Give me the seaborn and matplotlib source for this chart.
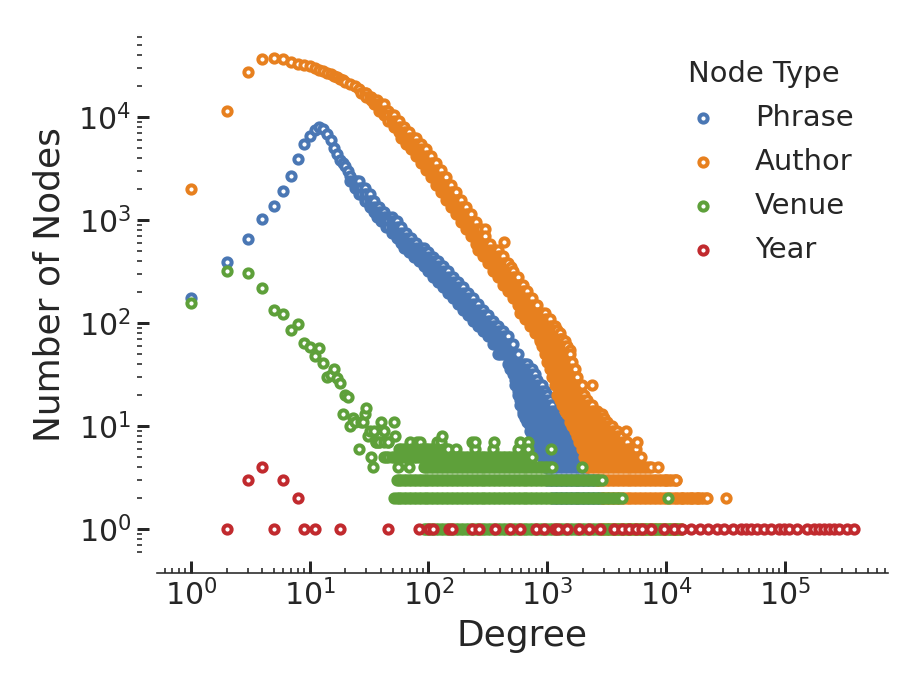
import numpy as np
import pandas as pd
import matplotlib
matplotlib.use("Agg")
import matplotlib.pyplot as plt
import seaborn as sns

# ----------------------------------------------------------
# DATA
# ----------------------------------------------------------
type_order = ["Phrase", "Author", "Venue", "Year"]
colors = {"Phrase": "#4a77b4", "Author": "#e7801f",
          "Venue": "#5ea03a", "Year": "#c12a2e"}

# sampled degrees (48 per decade) used for the dense part of the distributions
grid_deg = [10, 10, 11, 12, 12, 13, 13, 14, 15, 15, 16, 17, 18, 19, 20, 21, 22, 23, 24, 25,
            26, 27, 29, 30, 32, 33, 35, 37, 38, 40, 42, 44, 46, 49, 51, 54, 56, 59, 62, 65,
            68, 71, 75, 79, 83, 87, 91, 95,
            100, 105, 110, 115, 121, 127, 133, 140, 147, 154, 162, 170, 178, 187, 196, 205,
            215, 226, 237, 249, 261, 274, 287, 301, 316, 332, 348, 365, 383, 402, 422, 442,
            464, 487, 511, 536, 562, 590, 619, 649, 681, 715, 750, 787, 825, 866, 909, 953,
            1000, 1049, 1101, 1155, 1212, 1271, 1334, 1399, 1468, 1540, 1616, 1695, 1778,
            1866, 1957, 2054, 2154, 2260, 2371, 2488, 2610, 2738, 2873, 3014, 3162, 3317,
            3481, 3652, 3831, 4019, 4217, 4424, 4642, 4870, 5109, 5360, 5623, 5900, 6190,
            6494, 6813, 7148, 7499, 7867, 8254, 8660, 9085, 9532,
            10000, 10490, 11010, 11550, 12120, 12710, 13340, 13990, 14680, 15400, 16160,
            16950, 17780, 18660, 19570, 20540, 21540, 22600, 23710, 24880, 26100, 27380, 28730]

# Phrase: single low-degree points, then the band as count levels spanning
# a range of grid degrees (first/last are positions in grid_deg)
phrase_deg = list(range(1, 23))
phrase_cnt = [176, 388, 650, 1016, 1377, 1900, 2690, 3880, 5430, 6550, 7530,
              7950, 7700, 6790, 5980, 5030, 4340, 3830, 3540, 3340, 2970, 2690]
phrase_level_cnt = [2360, 2030, 1780, 1510, 1330, 1190, 1065, 965, 851, 750, 663,
                    597, 539, 488, 440, 398, 356, 316, 280, 249, 221, 196, 173,
                    153, 135, 119, 105, 93, 84, 75, 63, 50,
                    40, 36, 32, 28, 25, 22, 20, 18, 16, 14, 13, 12, 11, 10, 9, 8, 7, 6, 5, 4, 3, 2]
phrase_level_first = [16, 18, 20, 22, 24, 26, 27, 29, 31, 33, 35, 37,
                      38, 40, 42, 44, 46, 48, 50, 52, 54, 56, 58, 60,
                      62, 64, 66, 68, 70, 72, 74, 76,
                      80, 81, 82, 83, 83, 84, 84, 85, 85, 86, 86, 87, 88, 89, 89, 90, 91, 92, 94, 95, 96, 98]
phrase_level_last = [20, 22, 24, 26, 28, 30, 33, 35, 37, 39, 41, 43,
                     46, 48, 50, 52, 54, 56, 58, 60, 62, 64, 66, 68,
                     70, 72, 74, 76, 78, 80, 82, 84,
                     88, 90, 91, 92, 94, 95, 96, 97, 98, 100, 101, 102, 104, 105, 106, 107, 108, 110, 111, 112, 116, 118]

# Author
author_deg = list(range(1, 21))
author_cnt = [1990, 11400, 27300, 36300, 37400, 36600, 34200, 32900, 32000, 30800,
              29600, 28600, 27800, 26900, 25900, 25000, 24200, 23300, 22700, 21700]
author_level_cnt = [20700, 19700, 18600, 16900, 15600, 14400, 13200, 11500, 10300,
                    9080, 8000, 7080, 6240, 5500, 4830, 4150, 3570, 3080, 2590, 2200,
                    1850, 1570, 1330, 1130, 957, 816, 697, 589, 513, 442, 378, 322,
                    278, 234, 204, 173, 148, 125, 110, 93, 80, 67, 55,
                    85, 70, 60, 50, 42, 36, 30, 25, 20, 18, 16, 14, 13, 12, 11,
                    10, 9, 8, 7, 6, 5, 4, 3, 2, 1]
author_level_first = [16, 18, 20, 21, 23, 25, 26, 28, 30, 32, 34, 36, 37, 39, 41, 43,
                      45, 47, 49, 51, 53, 55, 57, 59, 61, 63, 65, 67, 68, 70, 72, 74,
                      76, 78, 80, 82, 84, 85, 87, 89, 91, 93, 95,
                      92, 93, 94, 95, 96, 97, 98, 99, 100, 101, 102, 103, 104, 105, 105,
                      106, 107, 108, 109, 110, 111, 112, 116, 118, 118]
author_level_last = [16, 18, 20, 23, 25, 27, 30, 32, 34, 36, 38, 40, 43, 45, 47, 49,
                     51, 53, 55, 57, 59, 61, 63, 65, 67, 69, 71, 73, 76, 78, 80, 82,
                     84, 86, 88, 90, 92, 95, 97, 99, 101, 103, 105,
                     100, 102, 104, 105, 106, 107, 108, 110, 111, 112, 114, 116, 118, 119, 120,
                     122, 124, 126, 128, 132, 134, 138, 148, 160, 150]
author_extra_deg = [298, 430, 499, 811, 1292, 2390, 4560, 5710, 8530, 10000,
                    12000, 13700, 16100, 18500, 22000, 32000]
author_extra_cnt = [810, 607, 352, 141, 70, 25, 9, 7, 4, 3, 3, 2, 2, 2, 2, 2]

# Venue
venue_deg = [1, 2, 3, 4, 5, 6, 7, 8, 9, 10, 11, 12, 13, 14, 15, 16, 17, 18, 19, 20,
             21, 22, 23, 24, 26, 27, 28, 29, 30, 31, 32, 33, 34, 35, 36, 38, 40, 42,
             46, 51, 52]
venue_cnt = [157, 322, 308, 217, 133, 121, 86, 97, 64, 58, 48, 57, 41, 30, 31, 36,
             29, 26, 13, 20, 19, 10, 12, 11, 6, 11, 11, 13, 15, 8, 9, 5, 4, 9, 7,
             7, 11, 9, 7, 11, 8]
venue_level_cnt = [1, 2, 3, 4, 5, 6]
venue_level_first = [46, 34, 35, 46, 30, 36]
venue_level_last = [150, 126, 118, 98, 90, 56]
venue_extra_deg = [55, 68, 1957, 169, 248, 352, 571, 693, 1065, 10400,
                   36, 38, 42, 46, 70, 80, 85, 118, 127, 233, 248, 354, 590, 690, 130]
venue_extra_cnt = [4, 4, 4, 6, 6, 6, 6, 6, 6, 2,
                   7, 7, 7, 7, 7, 7, 7, 7, 7, 7, 7, 7, 7, 7, 8]

# Year
year_deg = [2, 3, 4, 5, 6, 8, 9, 11, 18]
year_cnt = [1, 3, 4, 1, 3, 2, 1, 1, 1]
year_ones_deg = [46, 83, 101, 110, 150, 158, 233, 265, 366, 490, 594, 796, 935,
                 1170, 1230, 1470, 1840, 2240, 2800, 3630, 4270, 4860, 5530, 6300,
                 7400, 9590, 11600, 13700, 16100, 19300, 22500, 27000, 30700,
                 36800, 42400, 46800, 51500, 58600, 66700, 75900, 89200, 98200,
                 108000, 127000, 153000, 176000, 194000, 214000, 235000, 260000,
                 286000, 336000, 382000]


# ----------------------------------------------------------
# BUILD TABLE
# ----------------------------------------------------------
def levels(cnts, firsts, lasts):
    parts = []
    for c, a, b in zip(cnts, firsts, lasts):
        parts.append(pd.DataFrame({"Degree": grid_deg[a:b + 1], "Count": c}))
    return pd.concat(parts)


frames = {
    "Phrase": [pd.DataFrame({"Degree": phrase_deg, "Count": phrase_cnt}),
               levels(phrase_level_cnt, phrase_level_first, phrase_level_last)],
    "Author": [pd.DataFrame({"Degree": author_deg, "Count": author_cnt}),
               levels(author_level_cnt, author_level_first, author_level_last),
               pd.DataFrame({"Degree": author_extra_deg, "Count": author_extra_cnt})],
    "Venue": [pd.DataFrame({"Degree": venue_deg, "Count": venue_cnt}),
              levels(venue_level_cnt, venue_level_first, venue_level_last),
              pd.DataFrame({"Degree": venue_extra_deg, "Count": venue_extra_cnt})],
    "Year": [pd.DataFrame({"Degree": year_deg, "Count": year_cnt}),
             pd.DataFrame({"Degree": year_ones_deg, "Count": 1})],
}

df = pd.concat([pd.concat(v).assign(**{"Node Type": k}) for k, v in frames.items()],
               ignore_index=True)

# ----------------------------------------------------------
# PLOT
# ----------------------------------------------------------
sns.set_style("ticks")
plt.rcParams["font.family"] = ["DejaVu Sans"]

fig, ax = plt.subplots(figsize=(6.4, 4.8), dpi=144)
fig.subplots_adjust(left=0.1705, right=0.963, bottom=0.2, top=0.9504)

for name in type_order:
    sub = df[df["Node Type"] == name].sort_values("Degree", kind="stable")
    sns.scatterplot(data=sub, x="Degree", y="Count", ax=ax, color="white",
                    edgecolor=colors[name], linewidth=2.0, s=17, label=name)

ax.set_xscale("log")
ax.set_yscale("log")
ax.set_xlim(0.52, 7.3e5)
ax.set_ylim(0.589, 63500)

sns.despine(ax=ax, offset=10)
ax.spines["left"].set_visible(False)

ax.tick_params(which="major", direction="in", length=6, width=1.5,
               labelsize=15, color=".15", pad=3)
ax.tick_params(which="minor", direction="in", length=2.5, width=0.8, color=".15")

ax.set_xlabel("Degree", fontsize=18)
ax.set_ylabel("Number of Nodes", fontsize=18, labelpad=6)
ax.yaxis.label.set_y(0.518)

ax.legend(title="Node Type", frameon=False, fontsize=14.5, title_fontsize=14.5,
          loc="upper right", bbox_to_anchor=(0.939, 0.93),
          bbox_transform=fig.transFigure, borderaxespad=0, labelspacing=0.55)

plt.savefig("out.png", dpi=144)
